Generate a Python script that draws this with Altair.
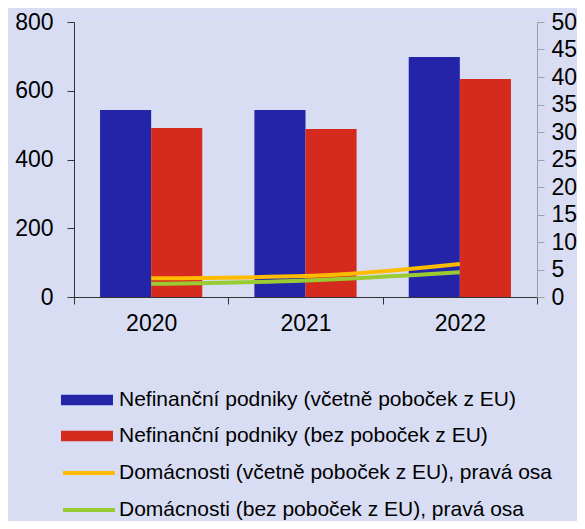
import altair as alt
import pandas as pd

years = ["2020", "2021", "2022"]
bar_series = ["Nefinanční podniky (včetně poboček z EU)", "Nefinanční podniky (bez poboček z EU)"]
line_series = ["Domácnosti (včetně poboček z EU), pravá osa", "Domácnosti (bez poboček z EU), pravá osa"]
nf_incl = [544, 544, 698]
nf_excl = [492, 489, 634]
dom_incl = [3.4, 3.8, 6.0]
dom_excl = [2.4, 3.0, 4.5]

bar_colors = ["#2324a8", "#d52b1e"]
line_colors = ["#ffbb00", "#99cc33"]

df_bars = pd.DataFrame(
    [{"year": y, "series": bar_series[0], "value": v} for y, v in zip(years, nf_incl)]
    + [{"year": y, "series": bar_series[1], "value": v} for y, v in zip(years, nf_excl)]
)
df_lines = pd.DataFrame(
    [{"year": y, "series": line_series[0], "value": v} for y, v in zip(years, dom_incl)]
    + [{"year": y, "series": line_series[1], "value": v} for y, v in zip(years, dom_excl)]
)

FONT = "Liberation Sans"
xscale = alt.Scale(domain=years, paddingInner=0, paddingOuter=0)
xaxis = alt.Axis(labelAngle=0, tickBand="extent", tickSize=7, labelPadding=8,
                 labelFontSize=23, domainColor="#333333", tickColor="#333333",
                 labelColor="#000000")

bars = alt.Chart(df_bars).mark_bar().encode(
    x=alt.X("year:N", scale=xscale, title=None, axis=xaxis),
    xOffset=alt.XOffset("series:N", scale=alt.Scale(domain=bar_series, paddingOuter=0.51, paddingInner=0)),
    y=alt.Y("value:Q", scale=alt.Scale(domain=[0, 800]), title=None,
            axis=alt.Axis(values=[0, 200, 400, 600, 800], tickSize=7, labelPadding=14,
                          labelFontSize=23, domainColor="#333333", tickColor="#333333",
                          labelColor="#000000", grid=False)),
    fill=alt.Fill("series:N", scale=alt.Scale(domain=bar_series, range=bar_colors),
                  legend=alt.Legend(title=None, orient="none", legendX=0, legendY=365,
                                    symbolType="M-2,-0.41H2V0.41H-2Z", symbolSize=676,
                                    labelOffset=19, labelFontSize=21, rowPadding=13,
                                    padding=0, symbolStrokeWidth=0, labelLimit=600,
                                    labelColor="#000000")),
)

lines = alt.Chart(df_lines).mark_line(strokeWidth=4, interpolate="monotone").encode(
    x=alt.X("year:N", scale=xscale, title=None, axis=xaxis),
    y=alt.Y("value:Q", scale=alt.Scale(domain=[0, 50]), title=None,
            axis=alt.Axis(orient="right", values=list(range(0, 51, 5)), tickSize=7,
                          labelPadding=7, labelFontSize=23, domainColor="#a0a0a0",
                          tickColor="#a0a0a0", labelColor="#000000", grid=False)),
    stroke=alt.Stroke("series:N", scale=alt.Scale(domain=line_series, range=line_colors),
                      legend=alt.Legend(title=None, orient="none", legendX=0, legendY=436,
                                        symbolType="M-2,0H2", symbolSize=676,
                                        symbolStrokeWidth=4, labelOffset=15, labelFontSize=21,
                                        rowPadding=12, padding=0, labelLimit=600,
                                        labelColor="#000000")),
)

chart = alt.layer(bars, lines).resolve_scale(y="independent").properties(
    width=463, height=275, background="#d9ddf4",
    autosize=alt.AutoSizeParams(type="none"),
    padding={"left": 66, "top": 14, "right": 40, "bottom": 224},
).configure_view(stroke=None).configure(font=FONT)

chart.save("out.html", embed_options={"renderer": "svg", "actions": False})
